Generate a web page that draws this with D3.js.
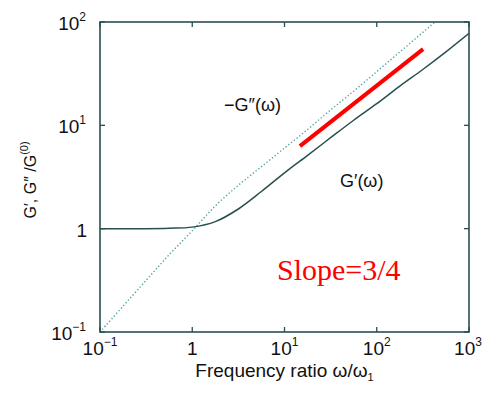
<!DOCTYPE html>
<html>
<head>
<meta charset="utf-8">
<script src="https://cdn.jsdelivr.net/npm/d3@7"></script>
<style>
  html, body { margin: 0; padding: 0; background: #fff; }
  svg { display: block; }
</style>
</head>
<body>
<div id="graph"></div>
<script>
// Frequency ratio values (omega / omega_1)
const omega = [0.1, 0.316, 0.562, 1, 1.78, 3.16, 5.62, 10, 17.8, 31.6, 56.2, 100, 178, 316, 562, 1000];
// G'(omega) / G(0) - solid curve
const gPrime = [1.0, 1.0, 1.01, 1.035, 1.17, 1.55, 2.29, 3.47, 5.13, 7.59, 11.2, 16.2, 24.0, 34.7, 51.3, 77.6];
// -G''(omega) / G(0) - dotted curve
const gDoublePrime = [0.1, 0.316, 0.56, 0.955, 1.66, 2.63, 3.98, 6.03, 9.12, 14.1, 21.4, 33.1, 51.3, 79.4, 123, 190];
// Red reference line with slope 3/4
const slopeLineOmega = [14.7, 318];
const slopeLineG = [6.3, 54.6];

const xTicks = [0.1, 1, 10, 100, 1000];
const xTickLabels = [["10", "-1"], ["1", ""], ["10", "1"], ["10", "2"], ["10", "3"]];
const yTicks = [0.1, 1, 10, 100];
const yTickLabels = [["10", "-1"], ["1", ""], ["10", "1"], ["10", "2"]];

const width = 482, height = 394;
const margin = { left: 100, right: 13, top: 22, bottom: 62 };
const frameColor = "#284f50";

const svg = d3.select("#graph").append("svg")
  .attr("width", width)
  .attr("height", height)
  .style("font-family", "'Liberation Sans', Arial, sans-serif");

const x = d3.scaleLog().domain([0.1, 1000]).range([margin.left, width - margin.right]);
const y = d3.scaleLog().domain([0.1, 100]).range([height - margin.bottom, margin.top]);

svg.append("defs").append("clipPath").attr("id", "plotClip")
  .append("rect")
  .attr("x", x(0.1)).attr("y", y(100))
  .attr("width", x(1000) - x(0.1)).attr("height", y(0.1) - y(100));

// Curves
const line = d3.line().x(d => x(d[0])).y(d => y(d[1])).curve(d3.curveCatmullRom.alpha(0.5));
const plot = svg.append("g").attr("clip-path", "url(#plotClip)");

plot.append("path")
  .datum(omega.map((w, i) => [w, gDoublePrime[i]]))
  .attr("d", line)
  .attr("fill", "none")
  .attr("stroke", "#4f9fa0")
  .attr("stroke-width", 1.4)
  .attr("stroke-dasharray", "1.3,2.2");

plot.append("path")
  .datum(omega.map((w, i) => [w, gPrime[i]]))
  .attr("d", line)
  .attr("fill", "none")
  .attr("stroke", frameColor)
  .attr("stroke-width", 1.5);

// Frame with inward ticks on all four sides
svg.append("rect")
  .attr("x", x(0.1)).attr("y", y(100))
  .attr("width", x(1000) - x(0.1)).attr("height", y(0.1) - y(100))
  .attr("fill", "none")
  .attr("stroke", frameColor)
  .attr("stroke-width", 1.6);

const tickLen = 5;
const ticks = svg.append("g").attr("stroke", frameColor).attr("stroke-width", 1.3);
xTicks.forEach(t => {
  ticks.append("line").attr("x1", x(t)).attr("x2", x(t)).attr("y1", y(0.1)).attr("y2", y(0.1) - tickLen);
  ticks.append("line").attr("x1", x(t)).attr("x2", x(t)).attr("y1", y(100)).attr("y2", y(100) + tickLen);
});
yTicks.forEach(t => {
  ticks.append("line").attr("y1", y(t)).attr("y2", y(t)).attr("x1", x(0.1)).attr("x2", x(0.1) + tickLen);
  ticks.append("line").attr("y1", y(t)).attr("y2", y(t)).attr("x1", x(1000)).attr("x2", x(1000) - tickLen);
});

// Tick labels with superscript exponents
function powerLabel(sel, base, exp) {
  sel.append("tspan").text(base);
  if (exp) {
    sel.append("tspan").attr("dy", -9).style("font-size", "12px").text(exp === "-1" ? "\u22121" : exp);
  }
}

xTicks.forEach((t, i) => {
  const [base, exp] = xTickLabels[i];
  const label = svg.append("text")
    .attr("x", i === xTicks.length - 1 ? x(t) - 1 : x(t))
    .attr("y", 355)
    .attr("text-anchor", "middle")
    .style("font-size", "19px")
    .attr("fill", "#111");
  powerLabel(label, base, exp);
});

yTicks.forEach((t, i) => {
  const [base, exp] = yTickLabels[i];
  const label = svg.append("text")
    .attr("x", exp ? 86 : 87)
    .attr("y", y(t) + 8)
    .attr("text-anchor", "end")
    .style("font-size", "19px")
    .attr("fill", "#111");
  powerLabel(label, base, exp);
});

// Axis titles
const xTitle = svg.append("text")
  .attr("x", (x(0.1) + x(1000)) / 2)
  .attr("y", 377)
  .attr("text-anchor", "middle")
  .style("font-size", "19px")
  .attr("fill", "#111");
xTitle.append("tspan").text("Frequency ratio \u03c9/\u03c9");
xTitle.append("tspan").attr("dy", 4).style("font-size", "11px").text("1");

const yTitle = svg.append("text")
  .attr("transform", `translate(36, ${(y(0.1) + y(100)) / 2 + 3}) rotate(-90)`)
  .attr("text-anchor", "middle")
  .style("font-size", "16px")
  .attr("fill", "#111");
yTitle.append("tspan").text("G\u2032, G\u2033 /G");
yTitle.append("tspan").attr("dy", -8).style("font-size", "11px").text("(0)");

// Curve annotations
svg.append("text")
  .attr("x", 224).attr("y", 111)
  .style("font-size", "18px").attr("fill", "#111")
  .text("\u2212G\u2033(\u03c9)");

svg.append("text")
  .attr("x", 340).attr("y", 187)
  .style("font-size", "18px").attr("fill", "#111")
  .text("G\u2032(\u03c9)");

// Slope reference line and label
svg.append("line")
  .attr("x1", x(slopeLineOmega[0])).attr("y1", y(slopeLineG[0]))
  .attr("x2", x(slopeLineOmega[1])).attr("y2", y(slopeLineG[1]))
  .attr("stroke", "#ff0000")
  .attr("stroke-width", 4);

svg.append("text")
  .attr("x", 277).attr("y", 280)
  .style("font-family", "'Liberation Serif', 'Times New Roman', serif")
  .style("font-size", "30px")
  .attr("fill", "#ff0000")
  .text("Slope=3/4");
</script>
</body>
</html>
